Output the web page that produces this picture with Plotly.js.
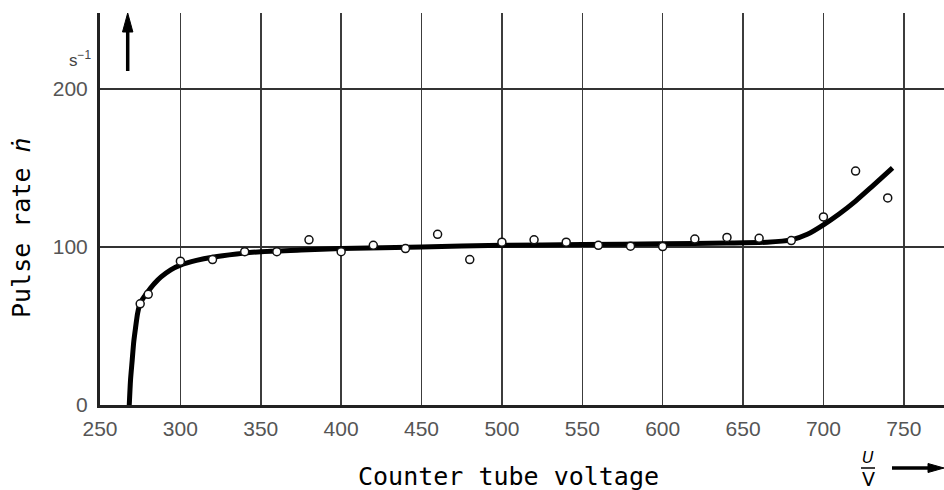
<!DOCTYPE html>
<html>
<head>
<meta charset="utf-8">
<script src="https://cdn.plot.ly/plotly-3.0.1.min.js"></script>
<style>html,body{margin:0;padding:0;background:#fff;}#chart{width:944px;height:490px;}</style>
</head>
<body>
<div id="chart"></div>
<script>
// Measured points (counter tube voltage U in V, pulse rate n in 1/s)
const pointU = [275, 280, 300, 320, 340, 360, 380, 400, 420, 440, 460, 480, 500, 520, 540, 560, 580, 600, 620, 640, 660, 680, 700, 720, 740];
const pointN = [64, 70, 91, 92, 97, 97, 104.5, 97, 101, 99, 108, 92, 103, 104.5, 103, 101, 100.5, 100.2, 105, 106, 105.5, 104, 119, 148, 131];

// Fitted characteristic curve
const curveU = [268.2, 269, 270, 271, 272, 273.4, 275, 277.5, 280, 284, 288, 294, 300, 310, 320, 335, 350, 375, 400, 450, 500, 550, 600, 640, 665, 680, 690, 700, 710, 720, 730, 743];
const curveN = [0, 16, 28, 40, 48, 58, 64.5, 68.5, 72, 77, 81, 85.5, 88.5, 91.5, 93.5, 95.5, 97, 98, 99, 100, 101, 101.5, 102, 102.5, 103, 104.5, 108, 114, 121, 129, 138, 150];

const xTicks = [250, 300, 350, 400, 450, 500, 550, 600, 650, 700, 750];
const yTicks = [0, 100, 200];

const xTitle = 'Counter tube voltage';
const yTitle = 'Pulse rate <i>ṅ</i>';
const yUnit = 's<sup>−1</sup>';

const tickFont = {family: 'Liberation Sans, Arial, sans-serif', size: 21, color: '#555'};
const monoFont = {family: 'DejaVu Sans Mono, monospace', size: 25, color: '#000'};

// pixel helpers for paper coordinates (plot area: x 100..944, y 13..405)
const L = 100, R = 944, T = 13, B = 405;
const px = v => (v - L) / (R - L);
const py = v => (B - v) / (B - T);
const path = pts => 'M ' + pts.map(p => px(p[0]) + ' ' + py(p[1])).join(' L ') + ' Z';

const traces = [
  {x: curveU, y: curveN, mode: 'lines', line: {color: '#000', width: 5, shape: 'spline', smoothing: 0.6}, hoverinfo: 'skip', showlegend: false},
  {x: pointU, y: pointN, mode: 'markers', marker: {symbol: 'circle', size: 8, color: '#fff', line: {color: '#111', width: 1.5}}, showlegend: false}
];

const layout = {
  width: 944, height: 490,
  margin: {l: L, r: 944 - R, t: T, b: 490 - B},
  paper_bgcolor: '#fff', plot_bgcolor: '#fff',
  showlegend: false,
  xaxis: {
    range: [250, 775], tickvals: xTicks, ticktext: xTicks.map(String),
    showgrid: true, gridcolor: '#3c3c3c', gridwidth: 1.5,
    showline: true, linecolor: '#222', linewidth: 3, zeroline: false,
    ticks: '', tickfont: tickFont, ticklabelstandoff: 3
  },
  yaxis: {
    range: [0, 248], tickvals: yTicks, ticktext: yTicks.map(String),
    showgrid: true, gridcolor: '#333', gridwidth: 1.5,
    showline: true, linecolor: '#222', linewidth: 3, zeroline: false,
    ticks: '', tickfont: tickFont, ticklabelstandoff: 5
  },
  shapes: [
    // fraction bar of U/V
    {type: 'line', xref: 'paper', yref: 'paper', x0: px(861), x1: px(875), y0: py(468), y1: py(468), line: {color: '#000', width: 1.5}},
    // upward arrow (y direction)
    {type: 'line', xref: 'paper', yref: 'paper', x0: px(127.7), x1: px(127.7), y0: py(71), y1: py(28), line: {color: '#000', width: 3.5}},
    {type: 'path', xref: 'paper', yref: 'paper', path: path([[127.7, 13], [122.5, 32], [132.9, 32]]), fillcolor: '#000', line: {color: '#000', width: 1}},
    // rightward arrow (x direction)
    {type: 'line', xref: 'paper', yref: 'paper', x0: px(892), x1: px(930), y0: py(468), y1: py(468), line: {color: '#000', width: 3.5}},
    {type: 'path', xref: 'paper', yref: 'paper', path: path([[944, 468], [928, 463.5], [928, 472.5]]), fillcolor: '#000', line: {color: '#000', width: 1}}
  ],
  annotations: [
    {xref: 'paper', yref: 'paper', x: px(508), y: py(476), text: xTitle, showarrow: false, font: monoFont, xanchor: 'center', yanchor: 'middle'},
    {xref: 'paper', yref: 'paper', x: px(21), y: py(228), text: yTitle, textangle: -90, showarrow: false, font: monoFont, xanchor: 'center', yanchor: 'middle'},
    {xref: 'paper', yref: 'paper', x: px(80), y: py(59), text: yUnit, showarrow: false, font: {family: 'Liberation Sans, Arial, sans-serif', size: 17, color: '#444'}, xanchor: 'center', yanchor: 'middle'},
    {xref: 'paper', yref: 'paper', x: px(868), y: py(457), text: '<i>U</i>', showarrow: false, font: {family: 'DejaVu Sans, sans-serif', size: 16, color: '#000'}, xanchor: 'center', yanchor: 'middle'},
    {xref: 'paper', yref: 'paper', x: px(868), y: py(478.5), text: 'V', showarrow: false, font: {family: 'DejaVu Sans, sans-serif', size: 19, color: '#000'}, xanchor: 'center', yanchor: 'middle'}
  ]
};

Plotly.newPlot('chart', traces, layout, {displayModeBar: false, staticPlot: true});
</script>
</body>
</html>
